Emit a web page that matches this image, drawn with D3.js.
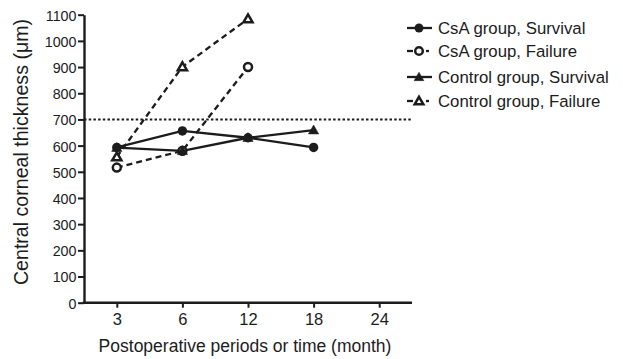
<!DOCTYPE html>
<html>
<head>
<meta charset="utf-8">
<script src="https://cdn.jsdelivr.net/npm/d3@7/dist/d3.min.js"></script>
<style>
  html, body { margin: 0; padding: 0; background: #fff; }
  svg { display: block; font-family: "Liberation Sans", Arial, sans-serif; }
</style>
</head>
<body>
<svg id="chart" width="623" height="359"></svg>
<script>
// Postoperative time points (months)
const periods = ["3", "6", "12", "18", "24"];
const yTicks = [0, 100, 200, 300, 400, 500, 600, 700, 800, 900, 1000, 1100];
const threshold = 700;

// Mean central corneal thickness (µm) per group
const csaSurvival     = [593, 656, 630, 593];
const csaFailure      = [516, 580, 900];
const controlSurvival = [592, 580, 630, 659];
const controlFailure  = [557, 901, 1084];

const seriesNames = [
  "CsA group, Survival",
  "CsA group, Failure",
  "Control group, Survival",
  "Control group, Failure"
];

const series = [
  { name: seriesNames[0], values: csaSurvival,     shape: "circle",   open: false, dashed: false },
  { name: seriesNames[1], values: csaFailure,      shape: "circle",   open: true,  dashed: true  },
  { name: seriesNames[2], values: controlSurvival, shape: "triangle", open: false, dashed: false },
  { name: seriesNames[3], values: controlFailure,  shape: "triangle", open: true,  dashed: true  }
];

const svg = d3.select("#chart");
const plotLeft = 84, plotRight = 412, plotTop = 14.7, plotBottom = 302.7;

const x = d3.scalePoint().domain(periods).range([plotLeft, plotRight]).padding(0.5);
const y = d3.scaleLinear().domain([0, 1100]).range([plotBottom, plotTop]);

const ink = "#1c1c1c";

// Axes
const yAxis = svg.append("g")
  .attr("transform", `translate(${plotLeft},0)`)
  .call(d3.axisLeft(y).tickValues(yTicks).tickFormat(d3.format("d"))
    .tickSize(6).tickPadding(1.5).tickSizeOuter(0));
const xAxis = svg.append("g")
  .attr("transform", `translate(0,${plotBottom})`)
  .call(d3.axisBottom(x).tickSize(5).tickPadding(6).tickSizeOuter(0));

[yAxis, xAxis].forEach(g => {
  g.select(".domain").attr("stroke", ink).attr("stroke-width", 2.4);
  g.selectAll(".tick line").attr("stroke", ink).attr("stroke-width", 2);
  g.selectAll(".tick text").attr("fill", ink)
    .attr("font-family", "'Liberation Sans', Arial, sans-serif");
});
yAxis.selectAll(".tick text").attr("font-size", 14.3).attr("dy", "0.38em");
xAxis.selectAll(".tick text").attr("font-size", 16.5);
// extend x axis line to the y axis
xAxis.select(".domain").attr("d", `M${plotLeft - 1.2},0H${plotRight}`);

// Axis titles
svg.append("text")
  .attr("x", 245).attr("y", 352)
  .attr("text-anchor", "middle")
  .attr("font-size", 17.5).attr("fill", ink)
  .text("Postoperative periods or time (month)");

svg.append("text")
  .attr("transform", `translate(28,152) rotate(-90)`)
  .attr("text-anchor", "middle")
  .attr("font-size", 19.6).attr("fill", ink)
  .text("Central corneal thickness (μm)");

// Reference threshold line
svg.append("line")
  .attr("x1", plotLeft).attr("x2", plotRight)
  .attr("y1", y(threshold)).attr("y2", y(threshold))
  .attr("stroke", ink).attr("stroke-width", 2)
  .attr("stroke-dasharray", "2.5,2.2");

const triPath = d3.symbol().type(d3.symbolTriangle);

function drawMarker(g, s, cx, cy, scale) {
  if (s.shape === "circle") {
    g.append("circle")
      .attr("cx", cx).attr("cy", cy)
      .attr("r", (s.open ? 4 : 4.7) * scale)
      .attr("fill", s.open ? "#fff" : ink)
      .attr("stroke", ink)
      .attr("stroke-width", s.open ? 2.5 : 0);
  } else {
    g.append("path")
      .attr("d", triPath.size((s.open ? 36 : 46) * scale * scale)())
      .attr("transform", `translate(${cx},${cy + 0.8})`)
      .attr("fill", s.open ? "#fff" : ink)
      .attr("stroke", ink)
      .attr("stroke-width", s.open ? 2.5 : 0.5);
  }
}

const line = d3.line()
  .x((d, i) => x(periods[i]))
  .y(d => y(d));

// Lines first, then markers
const linesG = svg.append("g");
const markersG = svg.append("g");
series.forEach(s => {
  linesG.append("path")
    .datum(s.values)
    .attr("d", line)
    .attr("fill", "none")
    .attr("stroke", ink)
    .attr("stroke-width", 2.3)
    .attr("stroke-dasharray", s.dashed ? "6,4" : null);
});
series.forEach(s => {
  s.values.forEach((v, i) => drawMarker(markersG, s, x(periods[i]), y(v), 1));
});

// Legend
const legendY = [28, 51, 77, 101];
const legend = svg.append("g");
series.forEach((s, i) => {
  const ly = legendY[i];
  const g = legend.append("g");
  if (s.dashed) {
    g.append("line").attr("x1", 407).attr("x2", 413).attr("y1", ly).attr("y2", ly)
      .attr("stroke", ink).attr("stroke-width", 2.3);
    g.append("line").attr("x1", 426).attr("x2", 429).attr("y1", ly).attr("y2", ly)
      .attr("stroke", ink).attr("stroke-width", 2.3);
  } else {
    g.append("line").attr("x1", 407).attr("x2", 432).attr("y1", ly).attr("y2", ly)
      .attr("stroke", ink).attr("stroke-width", 2.3);
  }
  drawMarker(g, s, 419, ly, 0.95);
  g.append("text")
    .attr("x", 438).attr("y", ly).attr("dy", "0.35em")
    .attr("font-size", 16.8).attr("fill", ink)
    .text(s.name);
});
</script>
</body>
</html>
